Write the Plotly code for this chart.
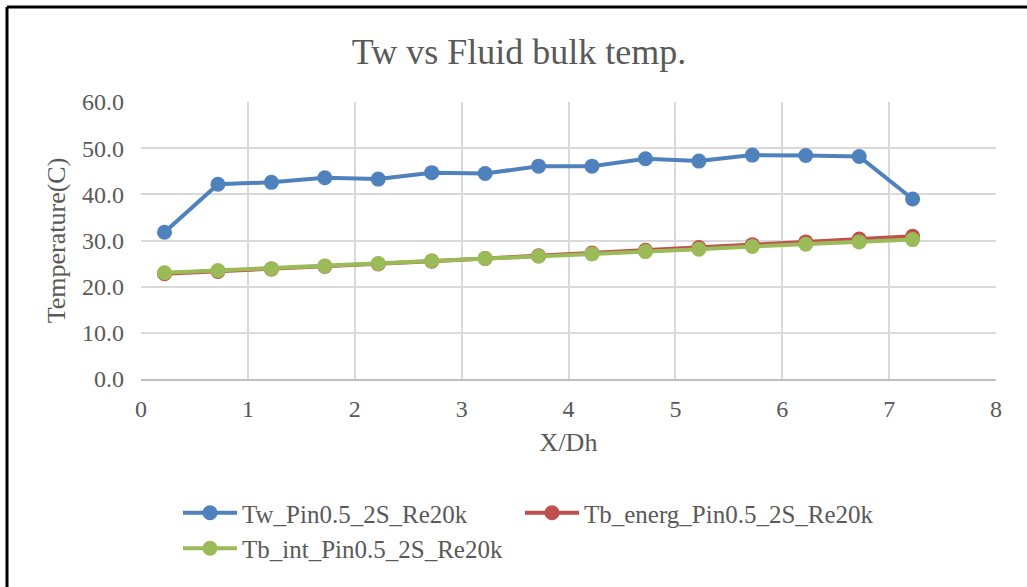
import plotly.graph_objects as go

x_dh = [0.22, 0.72, 1.22, 1.72, 2.22, 2.72, 3.22, 3.72, 4.22, 4.72, 5.22, 5.72, 6.22, 6.72, 7.22]
tw = [31.8, 42.2, 42.6, 43.6, 43.3, 44.7, 44.5, 46.1, 46.1, 47.7, 47.2, 48.5, 48.4, 48.2, 39.0]
tb_energ = [22.8, 23.3, 23.8, 24.4, 24.9, 25.5, 26.1, 26.7, 27.3, 27.9, 28.5, 29.1, 29.7, 30.3, 30.9]
tb_int = [23.0, 23.5, 23.9, 24.5, 25.0, 25.6, 26.1, 26.6, 27.1, 27.6, 28.1, 28.7, 29.2, 29.7, 30.2]
names = ["Tw_Pin0.5_2S_Re20k", "Tb_energ_Pin0.5_2S_Re20k", "Tb_int_Pin0.5_2S_Re20k"]
colors = ["#4F81BD", "#C0504D", "#9BBB59"]
legend_ids = ["legend", "legend2", "legend"]
groups = ["g1", "g2", "g3"]

W, H = 1027, 587
L, R, T, B = 141, 31, 102, 208
pw, ph = W - L - R, H - T - B

fig = go.Figure()
for ys, nm, c, lg, gp in zip([tw, tb_energ, tb_int], names, colors, legend_ids, groups):
    fig.add_trace(go.Scatter(x=x_dh, y=ys, name=nm, mode="lines+markers",
                             line=dict(color=c, width=4),
                             marker=dict(color=c, size=15),
                             legend=lg, legendgroup=gp))

font = "Liberation Serif, Times New Roman, serif"
grey = "#595959"

def px2x(p):
    return (p - L) / pw

def py2y(p):
    return (H - B - p) / ph

leg_common = dict(orientation="v", xanchor="left", yanchor="top",
                  font=dict(size=25, color=grey, family=font),
                  itemwidth=54, bgcolor="rgba(0,0,0,0)", traceorder="normal")

fig.update_layout(
    width=W, height=H,
    margin=dict(l=L, r=R, t=T, b=B),
    paper_bgcolor="white", plot_bgcolor="white",
    font=dict(family=font, color=grey, size=23),
    title=dict(text="Tw vs Fluid bulk temp.", x=519 / W, xanchor="center",
               y=1 - 51 / H, yanchor="middle", font=dict(size=36, color=grey, family=font)),
    xaxis=dict(range=[0, 8], dtick=1, tick0=0, showgrid=True, gridcolor="#D9D9D9", gridwidth=1.5,
               showline=True, linecolor="#BFBFBF", linewidth=1.5, zeroline=False, ticks="",
               ticklabelstandoff=7,
               title=dict(text="X/Dh", font=dict(size=26, color=grey), standoff=12),
               tickfont=dict(size=24, color=grey)),
    yaxis=dict(range=[0, 60], dtick=10, tickformat=".1f", showgrid=True, gridcolor="#D9D9D9", gridwidth=1.5,
               showline=False, zeroline=False, ticks="", ticklabelstandoff=16,
               title=dict(text="Temperature(C)", font=dict(size=26, color=grey), standoff=8),
               tickfont=dict(size=24, color=grey)),
    legend=dict(x=px2x(178), y=py2y(490), tracegroupgap=6, **leg_common),
    legend2=dict(x=px2x(520), y=py2y(490), tracegroupgap=6, **leg_common),
    showlegend=True,
)

# outer chart frame (left and top edges)
fig.add_shape(type="line", xref="paper", yref="paper",
              x0=px2x(7), x1=px2x(7), y0=py2y(7), y1=py2y(600),
              line=dict(color="black", width=3))
fig.add_shape(type="line", xref="paper", yref="paper",
              x0=px2x(7), x1=px2x(1040), y0=py2y(7), y1=py2y(7),
              line=dict(color="black", width=3))

fig.write_html("out.html")
